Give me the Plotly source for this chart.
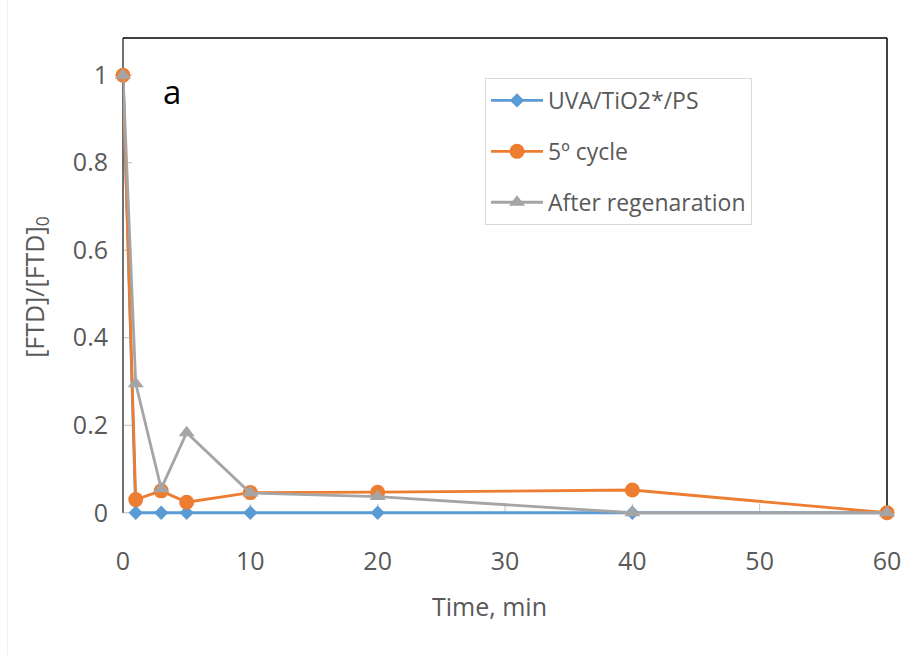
import plotly.graph_objects as go

# Reaction time (min)
time_min = [0, 1, 3, 5, 10, 20, 40, 60]

# Normalised FTD concentration [FTD]/[FTD]0
uva_tio2_ps = [1, 0, 0, 0, 0, 0, 0, 0]
cycle_5 = [1, 0.03, 0.05, 0.024, 0.046, 0.047, 0.052, 0]
after_regen = [1, 0.295, 0.055, 0.183, 0.045, 0.037, 0, 0]

series_names = ["UVA/TiO2*/PS", "5º cycle", "After regenaration"]

x_ticks = [0, 10, 20, 30, 40, 50, 60]
y_ticks = [0, 0.2, 0.4, 0.6, 0.8, 1]
y_tick_text = ["0", "0.2", "0.4", "0.6", "0.8", "1"]

FONT = "Open Sans, Segoe UI, Calibri, sans-serif"
TXT = "#595959"
TICK_SIZE = 25

X_MIN, X_MAX = 0, 60
Y_MIN, Y_MAX = -0.012, 1.085


def py(v):
    """y data value -> paper fraction"""
    return (v - Y_MIN) / (Y_MAX - Y_MIN)


def px(v):
    """x data value -> paper fraction"""
    return (v - X_MIN) / (X_MAX - X_MIN)


styles = [
    dict(color="#5B9BD5", symbol="diamond", size=11),
    dict(color="#ED7D31", symbol="circle", size=15),
    dict(color="#A5A5A5", symbol="triangle-up", size=14),
]

fig = go.Figure()
for name, values, st in zip(series_names, [uva_tio2_ps, cycle_5, after_regen], styles):
    fig.add_trace(go.Scatter(
        x=time_min, y=values, name=name, legendgroup=name,
        mode="lines+markers",
        line=dict(color=st["color"], width=2.8),
        marker=dict(symbol=st["symbol"], size=st["size"], color=st["color"]),
        cliponaxis=False,
    ))

# plot height so that y=0 sits 142 px above the bottom edge
plot_h_px = 475 / Y_MAX * (Y_MAX - Y_MIN)
bottom_margin = 655 - 38 - plot_h_px
unit_px = 475 / Y_MAX  # pixels per y unit

fig.update_layout(
    width=914, height=655,
    margin=dict(l=123, r=27, t=38, b=bottom_margin),
    paper_bgcolor="white", plot_bgcolor="white",
    font=dict(family=FONT, size=TICK_SIZE, color=TXT),
    showlegend=True,
    legend=dict(
        x=(485 - 123) / 764, y=py((513 - 78) / unit_px),
        xanchor="left", yanchor="top",
        bgcolor="white", bordercolor="#D9D9D9", borderwidth=1,
        font=dict(family=FONT, size=23, color=TXT),
        itemwidth=52, tracegroupgap=18,
    ),
    xaxis=dict(
        range=[X_MIN, X_MAX], tickvals=x_ticks, showgrid=False, zeroline=False,
        showline=False, ticks="", ticklabelstandoff=26,
        tickfont=dict(family=FONT, size=TICK_SIZE, color=TXT),
    ),
    yaxis=dict(
        range=[Y_MIN, Y_MAX], tickvals=y_ticks, ticktext=y_tick_text, showgrid=False,
        zeroline=False, showline=False,
        ticks="", ticklabelstandoff=14,
        tickfont=dict(family=FONT, size=TICK_SIZE, color=TXT),
    ),
)

P = dict(xref="paper", yref="paper")

# Baseline, inside tick marks, vertical axis line and black frame edges
fig.add_shape(type="line", **P, x0=0, x1=1, y0=py(0), y1=py(0),
              line=dict(color="#BFBFBF", width=1), layer="below")
for yv in y_ticks[1:]:
    fig.add_shape(type="line", **P, x0=0, x1=9 / 764, y0=py(yv), y1=py(yv),
                  line=dict(color="#BFBFBF", width=1), layer="below")
for xv in x_ticks[1:-1]:
    fig.add_shape(type="line", **P, x0=px(xv), x1=px(xv), y0=py(0), y1=py(9 / unit_px),
                  line=dict(color="#BFBFBF", width=1), layer="below")
fig.add_shape(type="line", **P, x0=0, x1=0, y0=py(0), y1=1,
              line=dict(color="#404040", width=1.5), layer="below")
fig.add_shape(type="line", **P, x0=0, x1=1, y0=1, y1=1,
              line=dict(color="black", width=1.5))
fig.add_shape(type="line", **P, x0=1, x1=1, y0=py(0), y1=1,
              line=dict(color="black", width=1.5), layer="below")

# Axis titles
fig.add_annotation(text="Time, min", **P, x=(489 - 123) / 764, y=py(-93 / unit_px),
                   xanchor="center", yanchor="middle",
                   showarrow=False, font=dict(family=FONT, size=TICK_SIZE, color=TXT))
fig.add_annotation(text="[FTD]/[FTD]<sub>0</sub>", **P,
                   x=(36 - 123) / 764, y=py((513 - 287) / unit_px), textangle=-90,
                   xanchor="center", yanchor="middle", showarrow=False,
                   font=dict(family=FONT, size=TICK_SIZE, color=TXT))

# Chart-area border on the far left
fig.add_shape(type="line", **P, x0=-0.151, x1=-0.151, y0=-0.35, y1=1.09,
              line=dict(color="#EDEDED", width=1))

# Panel label
fig.add_annotation(text="a", xref="x", yref="y", x=3.85, y=0.963, showarrow=False,
                   font=dict(family=FONT, size=33, color="black"))

fig.write_html("out.html")
